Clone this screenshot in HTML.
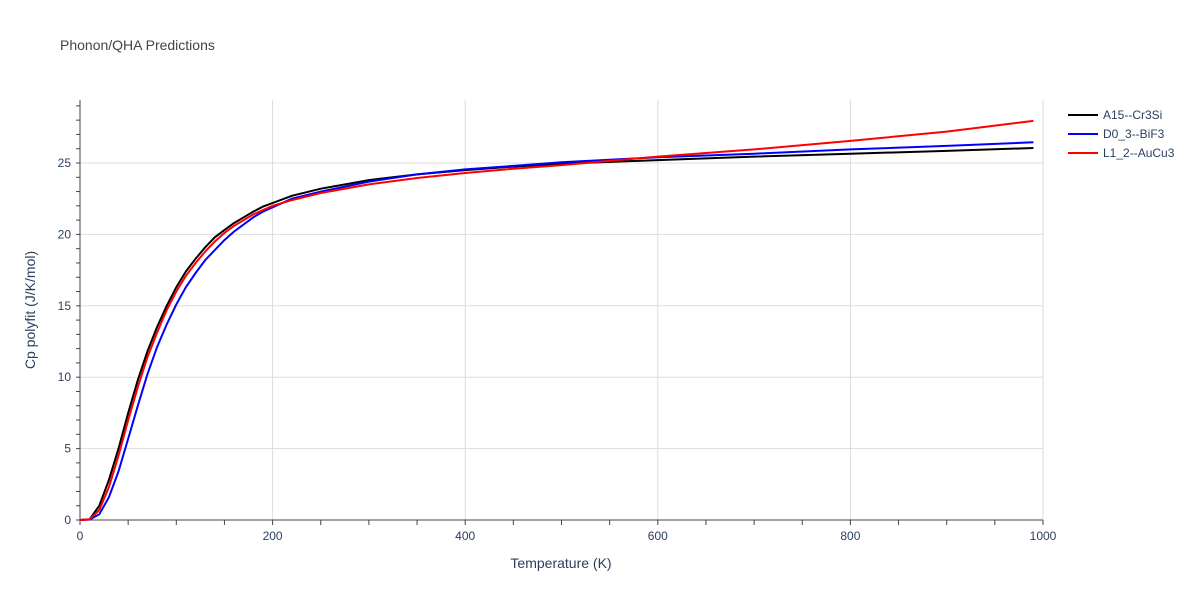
<!DOCTYPE html>
<html><head><meta charset="utf-8"><style>
body{margin:0;background:#fff;font-family:"Liberation Sans",sans-serif}
</style></head><body>
<svg id="chart" width="1200" height="600" xmlns="http://www.w3.org/2000/svg" font-family="Liberation Sans, sans-serif">
<text x="60" y="50" font-size="14" fill="#444">Phonon/QHA Predictions</text>
<g id="grid"></g><g id="axes"></g><g id="series"></g>
<text x="561" y="568" font-size="14" fill="#2a3f5f" text-anchor="middle">Temperature (K)</text>
<text transform="translate(35,310) rotate(-90)" font-size="14" fill="#2a3f5f" text-anchor="middle">Cp polyfit (J/K/mol)</text>
<g id="legend"></g>
</svg>
<script>
const temps=[0,10,20,30,40,50,60,70,80,90,100,110,120,130,140,150,160,170,180,190,200,220,250,300,350,400,450,500,600,700,800,900,990];
const blackVals=[0,0.05,1.0,2.8,5.0,7.5,9.8,11.8,13.5,15.0,16.3,17.4,18.3,19.1,19.8,20.3,20.8,21.2,21.6,21.95,22.2,22.7,23.2,23.8,24.2,24.5,24.75,24.95,25.2,25.45,25.65,25.85,26.05];
const blueVals=[0,0.03,0.4,1.6,3.4,5.7,8.0,10.2,12.1,13.7,15.1,16.3,17.3,18.2,18.9,19.6,20.2,20.7,21.2,21.6,21.9,22.5,23.0,23.7,24.2,24.55,24.8,25.05,25.4,25.65,25.95,26.2,26.45];
const redVals=[0,0.04,0.7,2.3,4.5,7.0,9.3,11.4,13.1,14.7,16.0,17.1,18.0,18.8,19.5,20.1,20.6,21.0,21.4,21.7,22.0,22.4,22.9,23.5,23.95,24.3,24.6,24.85,25.45,25.95,26.55,27.2,27.95];
const seriesNames=["A15--Cr3Si","D0_3--BiF3","L1_2--AuCu3"];
const xTicks=[0,200,400,600,800,1000];
const yTicks=[0,5,10,15,20,25];
const NS="http://www.w3.org/2000/svg";
const X0=80,X1=1043,Y0=520,PX=14.28;
const sx=v=>X0+(X1-X0)*v/1000, sy=v=>Y0-v*PX;
function mk(tag,attrs,parent){const e=document.createElementNS(NS,tag);for(const k in attrs)e.setAttribute(k,attrs[k]);parent.appendChild(e);return e;}
const grid=document.getElementById('grid'),axes=document.getElementById('axes');
xTicks.forEach(t=>{if(t>0){const l=mk('line',{x1:sx(t),x2:sx(t),y1:100,y2:Y0,stroke:'#ddd'},grid);
}
const tx=mk('text',{x:sx(t),y:540,'font-size':12,fill:'#2a3f5f','text-anchor':'middle'},axes);tx.textContent=t;
});
yTicks.forEach(t=>{if(t>0){const l=mk('line',{x1:X0,x2:X1,y1:sy(t),y2:sy(t),stroke:'#ddd'},grid);
}
const tx=mk('text',{x:71,y:sy(t)+4,'font-size':12,fill:'#2a3f5f','text-anchor':'end'},axes);tx.textContent=t;
});
for(let t=0;t<=1000;t+=50){mk('line',{x1:sx(t),x2:sx(t),y1:Y0,y2:Y0+5,stroke:'#444'},axes);}
for(let t=0;t<=29;t++){mk('line',{x1:X0-4,x2:X0,y1:sy(t),y2:sy(t),stroke:'#444'},axes);}
const ax=mk('line',{x1:X0,x2:X1,y1:Y0,y2:Y0,stroke:'#444'},axes);
const ay=mk('line',{x1:X0,x2:X0,y1:100,y2:Y0,stroke:'#444'},axes);
const colors=['#000','#00f','#f00'];
[blackVals,blueVals,redVals].forEach((vals,i)=>{
const d=vals.map((v,j)=>(j?'L':'M')+sx(temps[j]).toFixed(1)+','+sy(v).toFixed(1)).join(' ');
const p=mk('path',{d:d,fill:'none',stroke:colors[i],'stroke-width':2},document.getElementById('series'));

const lg=document.getElementById('legend');
const g=mk('g',{},lg);
mk('line',{x1:1068,x2:1098,y1:115+i*19,y2:115+i*19,stroke:colors[i],'stroke-width':2},g);
const t=mk('text',{x:1103,y:119+i*19,'font-size':12,fill:'#2a3f5f'},g);t.textContent=seriesNames[i];
});
</script>
</body></html>
